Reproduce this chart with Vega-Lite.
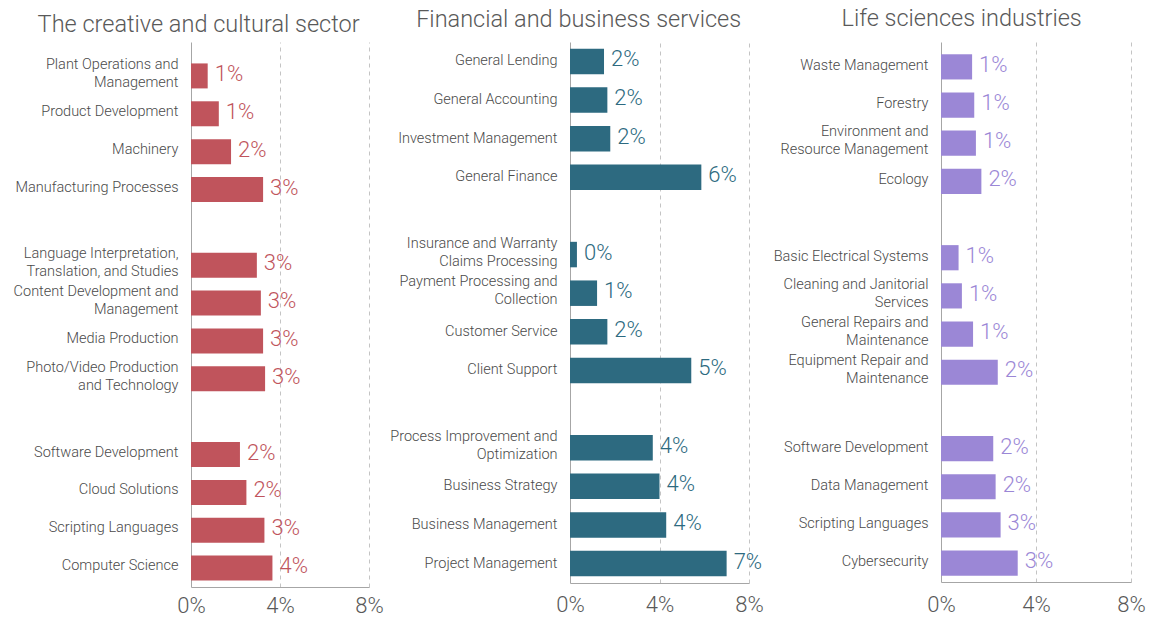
{
  "$schema": "https://vega.github.io/schema/vega-lite/v6.json",
  "padding": {"left": 0, "top": 6, "right": 0, "bottom": 0},
  "spacing": 0,
  "config": {"view": {"stroke": null}, "font": "Roboto"},
  "data": {"values": [
    {"sector": "creative", "skill": "Plant Operations and|Management", "value": 0.0075},
    {"sector": "creative", "skill": "Product Development", "value": 0.0125},
    {"sector": "creative", "skill": "Machinery", "value": 0.018},
    {"sector": "creative", "skill": "Manufacturing Processes", "value": 0.0324},
    {"sector": "creative", "skill": "Language Interpretation,|Translation, and Studies", "value": 0.0296},
    {"sector": "creative", "skill": "Content Development and|Management", "value": 0.0314},
    {"sector": "creative", "skill": "Media Production", "value": 0.0324},
    {"sector": "creative", "skill": "Photo/Video Production|and Technology", "value": 0.0333},
    {"sector": "creative", "skill": "Software Development", "value": 0.022},
    {"sector": "creative", "skill": "Cloud Solutions", "value": 0.0249},
    {"sector": "creative", "skill": "Scripting Languages", "value": 0.033},
    {"sector": "creative", "skill": "Computer Science", "value": 0.0366},
    {"sector": "finance", "skill": "General Lending", "value": 0.0152},
    {"sector": "finance", "skill": "General Accounting", "value": 0.0167},
    {"sector": "finance", "skill": "Investment Management", "value": 0.018},
    {"sector": "finance", "skill": "General Finance", "value": 0.0587},
    {"sector": "finance", "skill": "Insurance and Warranty|Claims Processing", "value": 0.0031},
    {"sector": "finance", "skill": "Payment Processing and|Collection", "value": 0.0121},
    {"sector": "finance", "skill": "Customer Service", "value": 0.0167},
    {"sector": "finance", "skill": "Client Support", "value": 0.0542},
    {"sector": "finance", "skill": "Process Improvement and|Optimization", "value": 0.037},
    {"sector": "finance", "skill": "Business Strategy", "value": 0.04},
    {"sector": "finance", "skill": "Business Management", "value": 0.043},
    {"sector": "finance", "skill": "Project Management", "value": 0.07},
    {"sector": "life", "skill": "Waste Management", "value": 0.0131},
    {"sector": "life", "skill": "Forestry", "value": 0.014},
    {"sector": "life", "skill": "Environment and|Resource Management", "value": 0.0147},
    {"sector": "life", "skill": "Ecology", "value": 0.017},
    {"sector": "life", "skill": "Basic Electrical Systems", "value": 0.0074},
    {"sector": "life", "skill": "Cleaning and Janitorial|Services", "value": 0.0088},
    {"sector": "life", "skill": "General Repairs and|Maintenance", "value": 0.0135},
    {"sector": "life", "skill": "Equipment Repair and|Maintenance", "value": 0.0239},
    {"sector": "life", "skill": "Software Development", "value": 0.022},
    {"sector": "life", "skill": "Data Management", "value": 0.023},
    {"sector": "life", "skill": "Scripting Languages", "value": 0.0251},
    {"sector": "life", "skill": "Cybersecurity", "value": 0.0323}
  ]},
  "hconcat": [
    {
      "title": {"text": "The creative and cultural sector", "fontSize": 23.5, "fontWeight": 300, "color": "#595959", "frame": "bounds", "anchor": "middle", "offset": 6, "dx": 7},
      "width": 178,
      "height": 545,
      "transform": [{"filter": "datum.sector == 'creative'"}],
      "encoding": {
        "y": {"field": "skill", "type": "nominal", "sort": null,
          "scale": {"domain": ["Plant Operations and|Management", "Product Development", "Machinery", "Manufacturing Processes", "gap1", "Language Interpretation,|Translation, and Studies", "Content Development and|Management", "Media Production", "Photo/Video Production|and Technology", "gap2", "Software Development", "Cloud Solutions", "Scripting Languages", "Computer Science"], "paddingInner": 0.34, "paddingOuter": 0.3675, "align": 0.77},
          "axis": {"title": null, "ticks": false, "labelPadding": 13, "labelFontSize": 14.5, "labelFontWeight": 300, "labelColor": "#4a4a4a", "labelLineHeight": 18, "labelLimit": 300, "labelOffset": {"condition": {"test": "indexof(datum.value, '|') >= 0", "value": -11}, "value": -2}, "labelExpr": "indexof(datum.value, 'gap') == 0 ? '' : split(datum.value, '|')", "domainColor": "#a6a6a6", "minExtent": 191, "maxExtent": 191}
        },
        "x": {"field": "value", "type": "quantitative", "scale": {"domain": [0, 0.08]},
          "axis": {"values": [0, 0.04, 0.08], "format": ".0%", "title": null, "ticks": false, "labelFontSize": 22, "labelFontWeight": 300, "labelColor": "#595959", "labelPadding": 8, "labelFlush": false, "grid": true, "gridDash": [4, 4], "gridColor": "#c4c4c4", "gridOpacity": {"condition": {"test": "datum.value === 0", "value": 0}, "value": 1}, "domainColor": "#a6a6a6"}
        }
      },
      "layer": [
        {"mark": {"type": "bar", "color": "#C0545C"}},
        {"mark": {"type": "text", "align": "left", "baseline": "middle", "dx": 7, "dy": -2, "fontSize": 22, "fontWeight": 300, "color": "#C0545C"}, "encoding": {"text": {"field": "value", "type": "quantitative", "format": ".0%"}}}
      ]
    },
    {
      "title": {"text": "Financial and business services", "fontSize": 23.5, "fontWeight": 300, "color": "#595959", "frame": "bounds", "anchor": "middle", "offset": 11, "dx": 5},
      "width": 179,
      "height": 541,
      "transform": [{"filter": "datum.sector == 'finance'"}],
      "encoding": {
        "y": {"field": "skill", "type": "nominal", "sort": null,
          "scale": {"domain": ["General Lending", "General Accounting", "Investment Management", "General Finance", "gap1", "Insurance and Warranty|Claims Processing", "Payment Processing and|Collection", "Customer Service", "Client Support", "gap2", "Process Improvement and|Optimization", "Business Strategy", "Business Management", "Project Management"], "paddingInner": 0.34, "paddingOuter": 0.1735, "align": 0.5},
          "axis": {"title": null, "ticks": false, "labelPadding": 13, "labelFontSize": 14.5, "labelFontWeight": 300, "labelColor": "#4a4a4a", "labelLineHeight": 18, "labelLimit": 300, "labelOffset": {"condition": {"test": "indexof(datum.value, '|') >= 0", "value": -11}, "value": 0}, "labelExpr": "indexof(datum.value, 'gap') == 0 ? '' : split(datum.value, '|')", "domainColor": "#a6a6a6", "minExtent": 186, "maxExtent": 186}
        },
        "x": {"field": "value", "type": "quantitative", "scale": {"domain": [0, 0.08]},
          "axis": {"values": [0, 0.04, 0.08], "format": ".0%", "title": null, "ticks": false, "labelFontSize": 22, "labelFontWeight": 300, "labelColor": "#595959", "labelPadding": 11, "labelFlush": false, "grid": true, "gridDash": [4, 4], "gridColor": "#c4c4c4", "gridOpacity": {"condition": {"test": "datum.value === 0", "value": 0}, "value": 1}, "domainColor": "#a6a6a6"}
        }
      },
      "layer": [
        {"mark": {"type": "bar", "color": "#2D6A80"}},
        {"mark": {"type": "text", "align": "left", "baseline": "middle", "dx": 7, "dy": -2, "fontSize": 22, "fontWeight": 300, "color": "#2D6A80"}, "encoding": {"text": {"field": "value", "type": "quantitative", "format": ".0%"}}}
      ]
    },
    {
      "title": {"text": "Life sciences industries", "fontSize": 23.5, "fontWeight": 300, "color": "#595959", "frame": "bounds", "anchor": "middle", "offset": 12, "dx": 7},
      "width": 190,
      "height": 540,
      "transform": [{"filter": "datum.sector == 'life'"}],
      "encoding": {
        "y": {"field": "skill", "type": "nominal", "sort": null,
          "scale": {"domain": ["Waste Management", "Forestry", "Environment and|Resource Management", "Ecology", "gap1", "Basic Electrical Systems", "Cleaning and Janitorial|Services", "General Repairs and|Maintenance", "Equipment Repair and|Maintenance", "gap2", "Software Development", "Data Management", "Scripting Languages", "Cybersecurity"], "paddingInner": 0.34, "paddingOuter": 0.2435, "align": 0.66},
          "axis": {"title": null, "ticks": false, "labelPadding": 13, "labelFontSize": 14.5, "labelFontWeight": 300, "labelColor": "#4a4a4a", "labelLineHeight": 18, "labelLimit": 300, "labelOffset": {"condition": {"test": "indexof(datum.value, '|') >= 0", "value": -11}, "value": -1}, "labelExpr": "indexof(datum.value, 'gap') == 0 ? '' : split(datum.value, '|')", "domainColor": "#a6a6a6", "minExtent": 177, "maxExtent": 177}
        },
        "x": {"field": "value", "type": "quantitative", "scale": {"domain": [0, 0.08]},
          "axis": {"values": [0, 0.04, 0.08], "format": ".0%", "title": null, "ticks": false, "labelFontSize": 22, "labelFontWeight": 300, "labelColor": "#595959", "labelPadding": 12, "labelFlush": false, "grid": true, "gridDash": [4, 4], "gridColor": "#c4c4c4", "gridOpacity": {"condition": {"test": "datum.value === 0", "value": 0}, "value": 1}, "domainColor": "#a6a6a6"}
        }
      },
      "layer": [
        {"mark": {"type": "bar", "color": "#9B87D6"}},
        {"mark": {"type": "text", "align": "left", "baseline": "middle", "dx": 7, "dy": -2, "fontSize": 22, "fontWeight": 300, "color": "#9B87D6"}, "encoding": {"text": {"field": "value", "type": "quantitative", "format": ".0%"}}}
      ]
    }
  ]
}
